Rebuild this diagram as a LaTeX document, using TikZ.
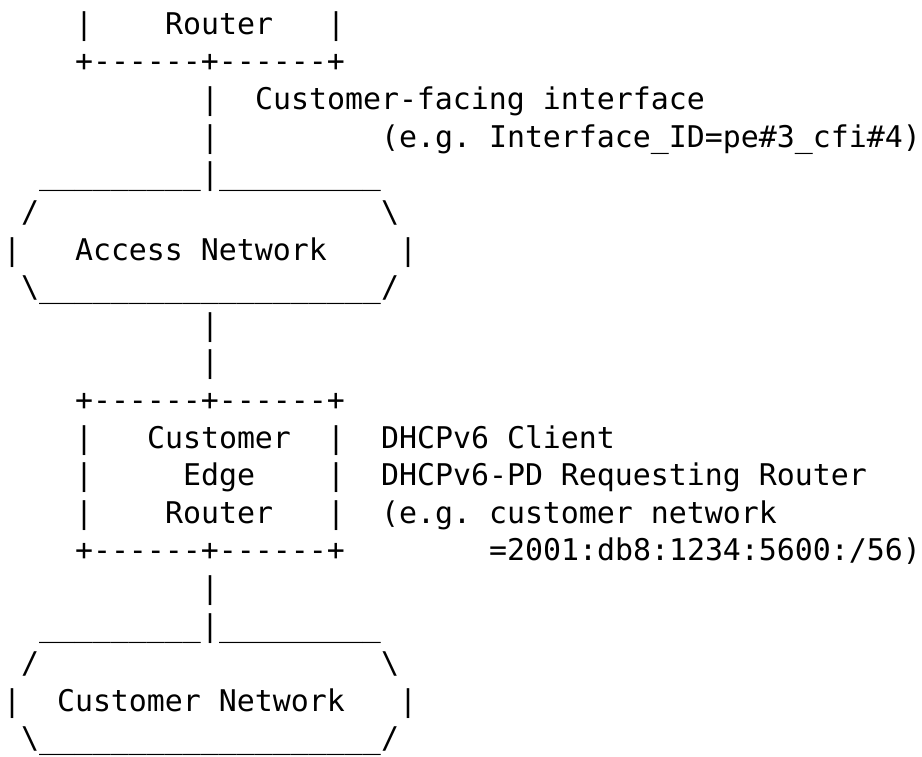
\documentclass[tikz,border=0pt]{standalone}
\usepackage{fontspec}
\setmonofont{DejaVu Sans Mono}
\frenchspacing
\tikzset{
  txt/.style={anchor=base west, inner sep=0pt, outer sep=0pt, font=\ttfamily\fontsize{29.9}{36}\selectfont, text=black}
}
% #1 name, #2 column, #3 line, #4 text
\newcommand\asciirun[4]{\node[txt] (#1) at ({3+18*#2},{3.2-37.6*#3}) {#4};}
\newcommand\usn{\_\_\_\_\_\_\_\_\_}
\begin{document}
\begin{tikzpicture}[x=1pt,y=1pt]
\fill[white] (0,0) rectangle (922,-757);
\useasboundingbox (0,0) rectangle (922,-757);
% Router (top)
\asciirun{r1a}{4}{1}{|}
\asciirun{r1b}{9}{1}{Router}
\asciirun{r1c}{18}{1}{|}
\asciirun{r2}{4}{2}{+------+------+}
% customer-facing interface
\asciirun{l3a}{11}{3}{|}
\asciirun{l3b}{14}{3}{Customer-facing interface}
\asciirun{l4a}{11}{4}{|}
\asciirun{l4b}{21}{4}{(e.g. Interface\_ID=pe\#3\_cfi\#4)}
% Access Network
\asciirun{a5a}{2}{5}{\usn}
\asciirun{a5b}{11}{5}{|}
\asciirun{a5c}{12}{5}{\usn}
\asciirun{a6a}{1}{6}{/}
\asciirun{a6b}{21}{6}{\textbackslash}
\asciirun{a7a}{0}{7}{|}
\asciirun{a7b}{4}{7}{Access Network}
\asciirun{a7c}{22}{7}{|}
\asciirun{a8a}{1}{8}{\textbackslash}
\asciirun{a8b}{2}{8}{\usn\usn\_}
\asciirun{a8c}{21}{8}{/}
\asciirun{l9}{11}{9}{|}
\asciirun{l10}{11}{10}{|}
% Customer Edge Router
\asciirun{c11}{4}{11}{+------+------+}
\asciirun{c12a}{4}{12}{|}
\asciirun{c12b}{8}{12}{Customer}
\asciirun{c12c}{18}{12}{|}
\asciirun{c12d}{21}{12}{DHCPv6 Client}
\asciirun{c13a}{4}{13}{|}
\asciirun{c13b}{10}{13}{Edge}
\asciirun{c13c}{18}{13}{|}
\asciirun{c13d}{21}{13}{DHCPv6-PD Requesting Router}
\asciirun{c14a}{4}{14}{|}
\asciirun{c14b}{9}{14}{Router}
\asciirun{c14c}{18}{14}{|}
\asciirun{c14d}{21}{14}{(e.g. customer network}
\asciirun{c15a}{4}{15}{+------+------+}
\asciirun{c15b}{27}{15}{=2001:db8:1234:5600:/56)}
\asciirun{l16}{11}{16}{|}
% Customer Network
\asciirun{n17a}{2}{17}{\usn}
\asciirun{n17b}{11}{17}{|}
\asciirun{n17c}{12}{17}{\usn}
\asciirun{n18a}{1}{18}{/}
\asciirun{n18b}{21}{18}{\textbackslash}
\asciirun{n19a}{0}{19}{|}
\asciirun{n19b}{3}{19}{Customer Network}
\asciirun{n19c}{22}{19}{|}
\asciirun{n20a}{1}{20}{\textbackslash}
\asciirun{n20b}{2}{20}{\usn\usn\_}
\asciirun{n20c}{21}{20}{/}
\end{tikzpicture}
\end{document}
